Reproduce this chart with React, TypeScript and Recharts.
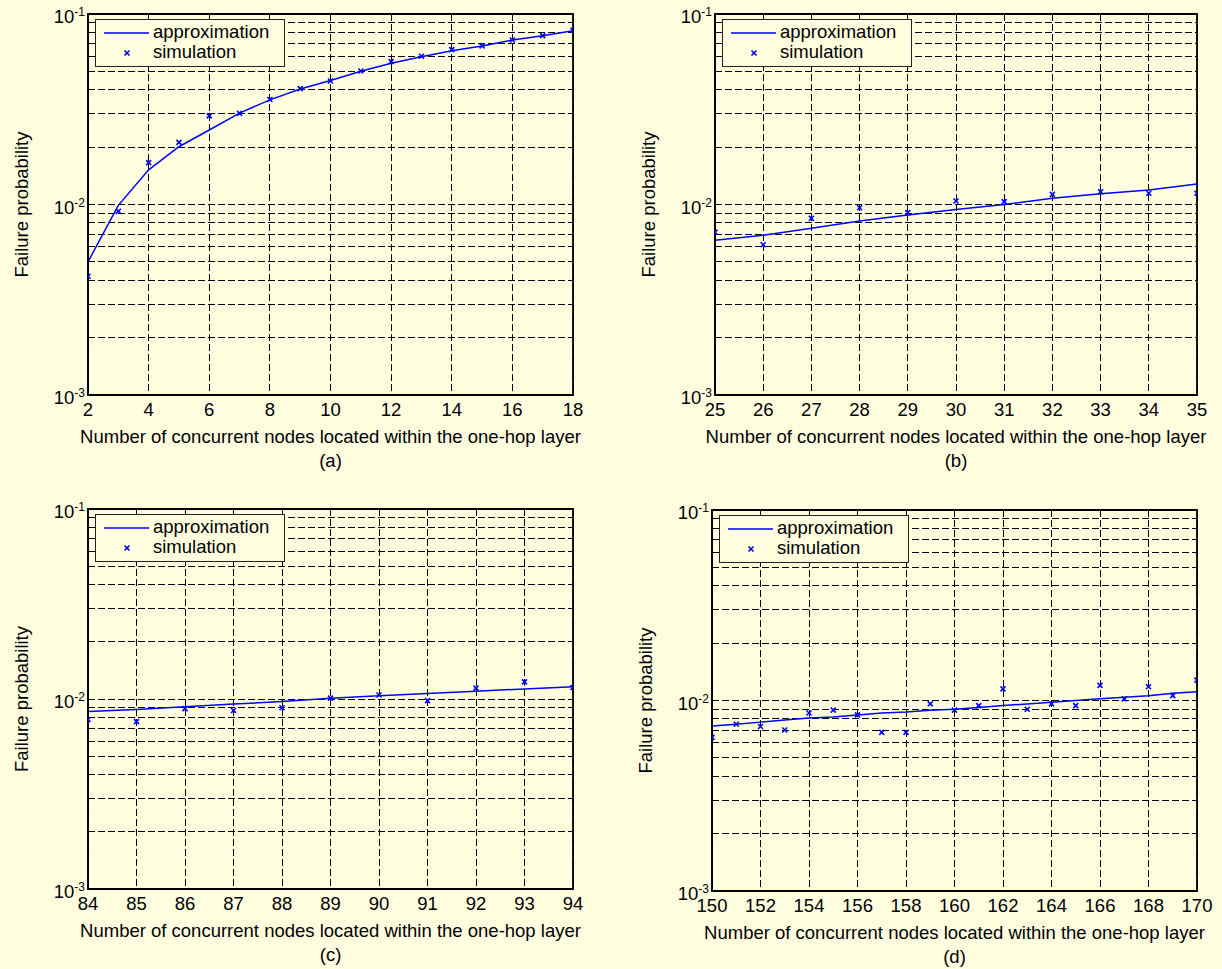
import { ComposedChart, Line, Scatter, XAxis, YAxis, CartesianGrid, ReferenceArea, Label } from "recharts";

const BG = "#ffffe0";
const FONT = "'Liberation Sans', Arial, Helvetica, sans-serif";
const BLUE = "#0000ff";
const FS = 18.5;

// y axis (log), all minor positions get a dashed grid line
const Y_TICKS = [
  0.001, 0.002, 0.003, 0.004, 0.005, 0.006, 0.007, 0.008, 0.009,
  0.01, 0.02, 0.03, 0.04, 0.05, 0.06, 0.07, 0.08, 0.09, 0.1,
];

// (a)
const xA = [2, 3, 4, 5, 6, 7, 8, 9, 10, 11, 12, 13, 14, 15, 16, 17, 18];
const approxA = [0.005, 0.0099, 0.0152, 0.0201, 0.0246, 0.0302, 0.0354, 0.0404, 0.0448, 0.05, 0.0551, 0.0597, 0.0642, 0.068, 0.0731, 0.0769, 0.0818];
const simA = [0.0042, 0.0092, 0.0166, 0.0212, 0.0292, 0.0301, 0.0356, 0.0406, 0.0445, 0.0502, 0.0562, 0.06, 0.065, 0.068, 0.073, 0.077, 0.082];
const ticksA = [2, 4, 6, 8, 10, 12, 14, 16, 18];

// (b)
const xB = [25, 26, 27, 28, 29, 30, 31, 32, 33, 34, 35];
const approxB = [0.0065, 0.0069, 0.0075, 0.0082, 0.0088, 0.0094, 0.01, 0.0108, 0.0114, 0.0119, 0.0128];
const simB = [0.00715, 0.00615, 0.00846, 0.00962, 0.00906, 0.01043, 0.01035, 0.0113, 0.01167, 0.01145, 0.01145];
const ticksB = [25, 26, 27, 28, 29, 30, 31, 32, 33, 34, 35];

// (c)
const xC = [84, 85, 86, 87, 88, 89, 90, 91, 92, 93, 94];
const approxC = [0.0086, 0.0088, 0.0091, 0.0094, 0.0097, 0.0101, 0.0104, 0.0107, 0.011, 0.0113, 0.0116];
const simC = [0.0078, 0.0076, 0.0089, 0.0087, 0.009, 0.0101, 0.0105, 0.0098, 0.0114, 0.0123, 0.0115];
const ticksC = [84, 85, 86, 87, 88, 89, 90, 91, 92, 93, 94];

// (d)
const xD = [150, 151, 152, 153, 154, 155, 156, 157, 158, 159, 160, 161, 162, 163, 164, 165, 166, 167, 168, 169, 170];
const approxD = [0.00735, 0.0075, 0.0077, 0.0079, 0.0081, 0.0082, 0.0084, 0.0086, 0.0087, 0.0089, 0.009, 0.0092, 0.0094, 0.0096, 0.0098, 0.01, 0.0102, 0.0104, 0.0106, 0.0109, 0.0111];
const simD = [0.0064, 0.0075, 0.0073, 0.007, 0.0086, 0.0089, 0.0084, 0.0068, 0.0068, 0.0096, 0.0089, 0.0094, 0.0115, 0.009, 0.0096, 0.0094, 0.012, 0.0102, 0.0118, 0.0106, 0.0128];
const ticksD = [150, 152, 154, 156, 158, 160, 162, 164, 166, 168, 170];

const X_LABEL = "Number of concurrent nodes located within the one-hop layer";
const Y_LABEL = "Failure probability";

const YW = 88; // y axis width = plot left inside chart
const MT = 14; // top margin
const MR = 24;
const XH = 80;

const isDecade = (v: number) => Math.abs(Math.log10(v) - Math.round(Math.log10(v))) < 1e-6;

const YTick = (props: any) => {
  const v = props.payload.value;
  if (!isDecade(v)) return null;
  const exp = Math.round(Math.log10(v));
  return (
    <text x={YW - 3} y={props.y + 9} textAnchor="end" fontFamily={FONT} fontSize={FS} fill="#000">
      <tspan>10</tspan>
      <tspan dy={-7} fontSize={12}>{exp}</tspan>
    </text>
  );
};

const XMark = (props: any) => {
  const { cx, cy } = props;
  if (cx == null || cy == null) return null;
  const s = 2.5;
  return (
    <g stroke={BLUE} strokeWidth={1.6}>
      <line x1={cx - s} y1={cy - s} x2={cx + s} y2={cy + s} />
      <line x1={cx - s} y1={cy + s} x2={cx + s} y2={cy - s} />
    </g>
  );
};

type PanelProps = {
  xs: number[];
  approx: number[];
  sim: number[];
  ticks: number[];
  tag: string;
  L: number;
  T: number;
  R: number;
  B: number;
};

const Panel = ({ xs, approx, sim, ticks, tag, L, T, R, B }: PanelProps) => {
  const pw = R - L;
  const ph = B - T;
  const W = YW + pw + MR;
  const H = MT + ph + XH;
  const lineData = xs.map((x, i) => ({ x, y: approx[i] }));
  const simData = xs.map((x, i) => ({ x, y: sim[i] }));
  const domain = [ticks[0], ticks[ticks.length - 1]];
  const cx = YW + pw / 2;
  const bottom = MT + ph;

  const XTick = (p: any) => (
    <text x={p.x} y={bottom + 21} textAnchor="middle" fontFamily={FONT} fontSize={FS} fill="#000">
      {p.payload.value}
    </text>
  );

  return (
    <div style={{ position: "absolute", left: L - YW, top: T - MT }}>
      <ComposedChart width={W} height={H} margin={{ top: MT, right: MR, left: 0, bottom: 0 }}>
        <CartesianGrid stroke="#000" strokeDasharray="7 3" strokeWidth={1} shapeRendering="crispEdges" />
        <XAxis
          type="number"
          dataKey="x"
          domain={domain}
          ticks={ticks}
          allowDataOverflow
          interval={0}
          height={XH}
          tickSize={0}
          tickMargin={8}
          tick={XTick}
          axisLine={{ stroke: "#000", strokeWidth: 1.5 }}
        >
          <Label
            content={() => (
              <g fontFamily={FONT} fontSize={FS} fill="#000">
                <text x={cx} y={bottom + 48} textAnchor="middle">{X_LABEL}</text>
                <text x={cx} y={bottom + 72} textAnchor="middle">({tag})</text>
              </g>
            )}
          />
        </XAxis>
        <YAxis
          type="number"
          dataKey="y"
          scale="log"
          domain={[0.001, 0.1]}
          ticks={Y_TICKS}
          allowDataOverflow
          interval={0}
          width={YW}
          tickSize={0}
          tickMargin={3}
          tick={YTick}
          axisLine={{ stroke: "#000", strokeWidth: 1.5 }}
        >
          <Label
            content={() => {
              const lx = YW - 67;
              const ly = MT + ph / 2;
              return (
                <text
                  x={lx}
                  y={ly}
                  transform={`rotate(-90, ${lx}, ${ly})`}
                  textAnchor="middle"
                  dominantBaseline="central"
                  fontFamily={FONT}
                  fontSize={FS}
                  fill="#000"
                >
                  {Y_LABEL}
                </text>
              );
            }}
          />
        </YAxis>
        <ReferenceArea x1={domain[0]} x2={domain[1]} y1={0.001} y2={0.1} fill="none" stroke="#000" strokeWidth={1.8} ifOverflow="visible" />
        <Line data={lineData} dataKey="y" type="linear" stroke={BLUE} strokeWidth={1.5} dot={false} isAnimationActive={false} />
        <Scatter data={simData} dataKey="y" shape={XMark} isAnimationActive={false} />
      </ComposedChart>
      <div
        style={{
          position: "absolute",
          left: YW + 7,
          top: MT + 5,
          width: 190,
          height: 48,
          boxSizing: "border-box",
          border: "1px solid #222",
          background: BG,
          fontFamily: FONT,
          fontSize: FS,
          color: "#000",
        }}
      >
        <svg width={60} height={46} style={{ position: "absolute", left: 0, top: 0 }}>
          <line x1={8} y1={13} x2={53} y2={13} stroke={BLUE} strokeWidth={1.5} />
          <XMark cx={31} cy={33} />
        </svg>
        <div style={{ position: "absolute", left: 57, top: 2, lineHeight: "20px" }}>approximation</div>
        <div style={{ position: "absolute", left: 57, top: 22, lineHeight: "20px" }}>simulation</div>
      </div>
    </div>
  );
};

export default function App() {
  return (
    <div style={{ position: "absolute", left: 0, top: 0, width: 1222, height: 969, background: BG, overflow: "hidden" }}>
      <Panel xs={xA} approx={approxA} sim={simA} ticks={ticksA} tag="a" L={88} T={14} R={573} B={395} />
      <Panel xs={xB} approx={approxB} sim={simB} ticks={ticksB} tag="b" L={715} T={14} R={1197} B={395} />
      <Panel xs={xC} approx={approxC} sim={simC} ticks={ticksC} tag="c" L={88} T={509} R={573} B={889} />
      <Panel xs={xD} approx={approxD} sim={simD} ticks={ticksD} tag="d" L={712} T={510} R={1197} B={891} />
    </div>
  );
}
